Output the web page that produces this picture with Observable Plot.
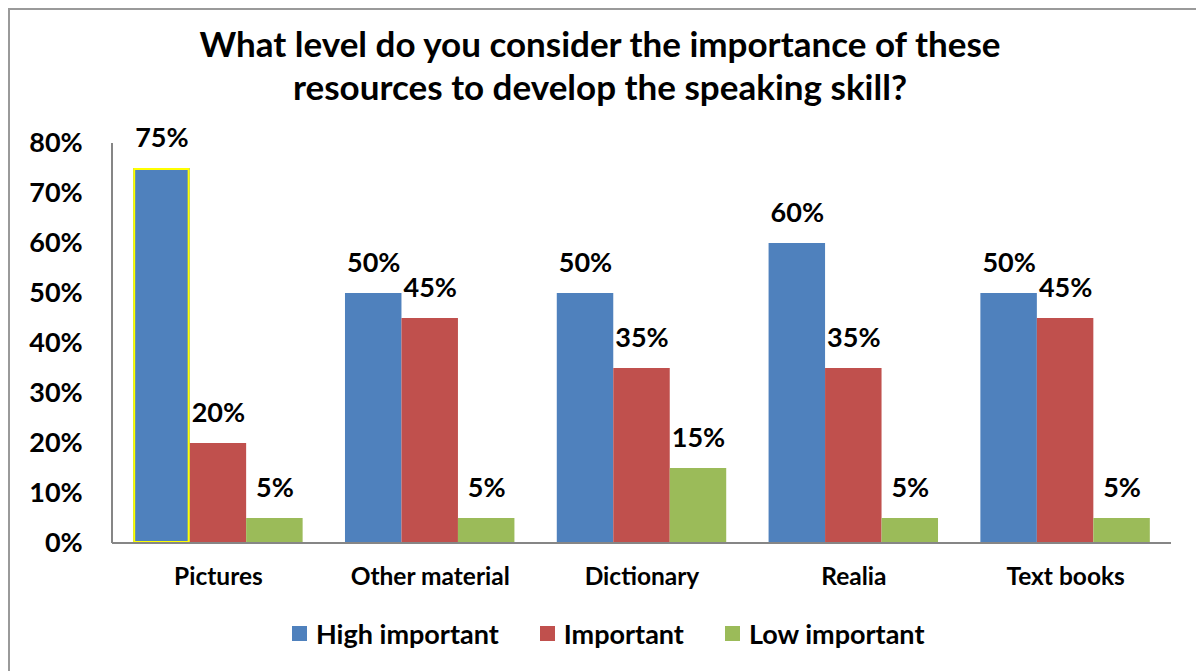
<!DOCTYPE html>
<html><head><meta charset="utf-8">
<script src="https://cdn.jsdelivr.net/npm/d3@7"></script>
<script src="https://cdn.jsdelivr.net/npm/@observablehq/plot@0.6"></script>
<style>
body{margin:0;background:#fff;font-family:Lato,sans-serif;}
#wrap{position:relative;width:1196px;height:671px;overflow:hidden;background:#fff;}
#border{position:absolute;left:8px;top:8px;width:1400px;height:900px;border:2px solid #9a9a9a;box-sizing:border-box;}
#title{position:absolute;left:0;width:1200px;top:22px;text-align:center;font-weight:bold;font-size:35px;line-height:43px;color:#000;}
#chart{position:absolute;left:0;top:0;}
#legend{position:absolute;left:292px;top:617px;display:flex;align-items:center;font-weight:bold;font-size:27px;color:#000;white-space:nowrap;}
#legend .item{display:flex;align-items:center;margin-right:41px;}
#legend .sw{width:15px;height:15px;margin-right:9px;}
</style>
</head><body>
<div id="wrap">
<div id="border"></div>
<div id="chart"></div>
<div id="title">What level do you consider the importance of these<br>resources to develop the speaking skill?</div>
<div id="legend"></div>
</div>
<script>
const categories = ["Pictures", "Other material", "Dictionary", "Realia", "Text books"];
const series = ["High important", "Important", "Low important"];
const highImportant = [0.75, 0.50, 0.50, 0.60, 0.50];
const important = [0.20, 0.45, 0.35, 0.35, 0.45];
const lowImportant = [0.05, 0.05, 0.15, 0.05, 0.05];
const yTicks = [0, 0.1, 0.2, 0.3, 0.4, 0.5, 0.6, 0.7, 0.8];
const colors = ["#4F81BD", "#C0504D", "#9BBB59"];

const seriesValues = [highImportant, important, lowImportant];
const data = [];
categories.forEach((c, i) => {
  series.forEach((s, j) => data.push({category: c, series: s, value: seriesValues[j][i]}));
});
const highlighted = data.filter(d => d.category === "Pictures" && d.series === "High important");
const pct = d3.format(".0%");

const plot = Plot.plot({
  width: 1196, height: 671,
  marginTop: 143, marginBottom: 128, marginLeft: 112, marginRight: 25,
  style: {fontFamily: "Lato, sans-serif", color: "#000", background: "transparent"},
  fx: {domain: categories, paddingInner: 0.2, paddingOuter: 0.1, round: false, label: null},
  x: {domain: series, padding: 0, round: false, axis: null},
  y: {domain: [0, 0.8], label: null},
  color: {domain: series, range: colors},
  marks: [
    Plot.axisY({ticks: yTicks, tickFormat: pct, tickSize: 0, tickPadding: 51, fontSize: 27, fontWeight: "bold", label: null}),
    Plot.axisFx({anchor: "bottom", tickSize: 0, tickPadding: 24, fontSize: 24.5, fontWeight: "bold", label: null}),
    Plot.barY(data, {fx: "category", x: "series", y: "value", fill: "series", inset: 0}),
    Plot.barY(highlighted, {fx: "category", x: "series", y: "value", fill: "none", stroke: "#FFFF00", strokeWidth: 2, inset: 1}),
    Plot.text(data, {fx: "category", x: "series", y: "value", text: d => pct(d.value), dy: -30, fontSize: 27, fontWeight: "bold", fill: "#000"})
  ]
});
document.getElementById("chart").appendChild(plot);

// axis lines
const ys = plot.scale("y"), fxs = plot.scale("fx");
const svg = d3.select(plot);
const y0 = ys.apply(0), yTop = ys.apply(0.8);
const [fx0, fx1] = fxs.range;
svg.append("line").attr("x1", fx0).attr("x2", fx0).attr("y1", yTop).attr("y2", y0).attr("stroke", "#868686").attr("stroke-width", 2);
svg.append("line").attr("x1", fx0).attr("x2", fx1).attr("y1", y0).attr("y2", y0).attr("stroke", "#868686").attr("stroke-width", 2);

const legend = d3.select("#legend");
series.forEach((s, i) => {
  const it = legend.append("div").attr("class", "item");
  it.append("div").attr("class", "sw").style("background", colors[i]);
  it.append("span").text(s);
});
</script>
</body></html>
